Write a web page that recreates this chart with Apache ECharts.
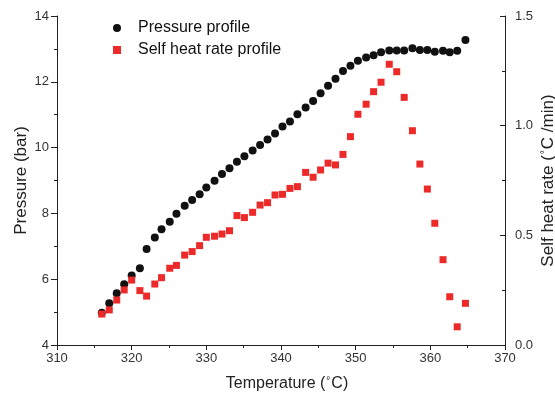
<!DOCTYPE html>
<html><head><meta charset="utf-8">
<script src="https://cdn.jsdelivr.net/npm/echarts@6/dist/echarts.min.js"></script>
<style>html,body{margin:0;padding:0;background:#fff}#c{width:555px;height:396px}</style>
</head><body><div id="c"></div>
<script>
var temperature = [316.0,317.0,318.0,319.0,320.0,321.1,322.0,323.1,324.0,325.1,326.0,327.1,328.1,329.1,330.0,331.1,332.1,333.1,334.1,335.1,336.2,337.2,338.2,339.2,340.2,341.2,342.2,343.3,344.3,345.3,346.3,347.3,348.3,349.3,350.3,351.4,352.4,353.4,354.5,355.5,356.5,357.6,358.6,359.6,360.6,361.7,362.6,363.6,364.7];
var pressure = [4.98,5.27,5.57,5.85,6.11,6.33,6.92,7.27,7.52,7.75,7.99,8.23,8.41,8.58,8.79,8.99,9.20,9.37,9.57,9.74,9.91,10.08,10.25,10.43,10.64,10.79,11.01,11.22,11.42,11.65,11.88,12.09,12.33,12.49,12.64,12.74,12.81,12.90,12.95,12.95,12.95,13.02,12.97,12.97,12.91,12.94,12.90,12.94,13.27];
var heatRate = [0.141,0.160,0.205,0.251,0.296,0.248,0.223,0.278,0.307,0.350,0.363,0.410,0.426,0.453,0.491,0.496,0.506,0.521,0.590,0.581,0.605,0.638,0.649,0.684,0.687,0.714,0.722,0.787,0.765,0.798,0.829,0.821,0.869,0.950,1.052,1.098,1.155,1.198,1.280,1.246,1.129,0.977,0.825,0.711,0.555,0.389,0.220,0.083,0.190];
var seriesNames = ['Pressure profile','Self heat rate profile'];

var font = 'Liberation Sans, Arial, sans-serif';
var axisColor = '#222';
function pairs(xs, ys){ return xs.map(function(x,i){ return [x, ys[i]]; }); }
function nameStyle(size, pad){
  return {fontFamily:font, fontSize:size, color:'#222', padding:pad,
    rich:{sup:{fontFamily:font, fontSize:Math.round(size*0.6), color:'#222', verticalAlign:'top', lineHeight:Math.round(size*0.6), padding:[0,1,Math.round(size*0.45),1]}}};
}

var chart = echarts.init(document.getElementById('c'), null, {renderer:'canvas'});
chart.setOption({
  animation:false,
  backgroundColor:'#fff',
  grid:{left:57, right:50, top:16, bottom:51, containLabel:false, outerBoundsMode:'none'},
  legend:{
    orient:'vertical', left:108, top:15, itemGap:6, itemWidth:8, itemHeight:8,
    textStyle:{fontFamily:font, fontSize:16, lineHeight:16, color:'#111', padding:[0,0,0,12]},
    data:[{name:seriesNames[0], icon:'circle'},{name:seriesNames[1], icon:'rect'}]
  },
  xAxis:{
    type:'value', min:310, max:370, interval:10,
    name:'Temperature ({sup|°}C)', nameLocation:'middle', nameGap:31, nameMoveOverlap:false,
    nameTextStyle:nameStyle(16,[0,0,0,12]),
    axisLine:{show:true, onZero:false, lineStyle:{color:axisColor, width:1}},
    axisTick:{show:true, length:5, lineStyle:{color:axisColor}},
    minorTick:{show:true, splitNumber:2, length:3, lineStyle:{color:axisColor}},
    axisLabel:{fontFamily:font, fontSize:13, color:'#333', margin:7},
    splitLine:{show:false}
  },
  yAxis:[{
    type:'value', min:4, max:14, interval:2, position:'left',
    name:'Pressure (bar)', nameLocation:'middle', nameGap:27, nameRotate:90, nameMoveOverlap:false,
    nameTextStyle:nameStyle(17,[0,0,0,0]),
    axisLine:{show:true, onZero:false, lineStyle:{color:axisColor, width:1}},
    axisTick:{show:true, length:6, lineStyle:{color:axisColor}},
    minorTick:{show:true, splitNumber:2, length:3, lineStyle:{color:axisColor}},
    axisLabel:{fontFamily:font, fontSize:13, color:'#333', margin:8},
    splitLine:{show:false}
  },{
    type:'value', min:0, max:1.5, interval:0.5, position:'right',
    name:'Self heat rate ({sup|°}C /min)', nameLocation:'middle', nameGap:35, nameRotate:90, nameMoveOverlap:false,
    nameTextStyle:nameStyle(17,[0,0,0,0]),
    axisLine:{show:true, onZero:false, lineStyle:{color:axisColor, width:1}},
    axisTick:{show:true, inside:true, length:5, lineStyle:{color:axisColor}},
    minorTick:{show:true, splitNumber:2, length:3, lineStyle:{color:axisColor}},
    axisLabel:{fontFamily:font, fontSize:13, color:'#333', margin:10,
      formatter:function(v){ return v.toFixed(1); }},
    splitLine:{show:false}
  }],
  series:[{
    name:seriesNames[0], type:'scatter', yAxisIndex:0,
    symbol:'circle', symbolSize:8,
    itemStyle:{color:'#111111', opacity:1},
    data:pairs(temperature, pressure), z:2
  },{
    name:seriesNames[1], type:'scatter', yAxisIndex:1,
    symbol:'rect', symbolSize:7,
    itemStyle:{color:'#ec2a2a', opacity:1},
    data:pairs(temperature, heatRate), z:3
  }]
});
</script></body></html>
